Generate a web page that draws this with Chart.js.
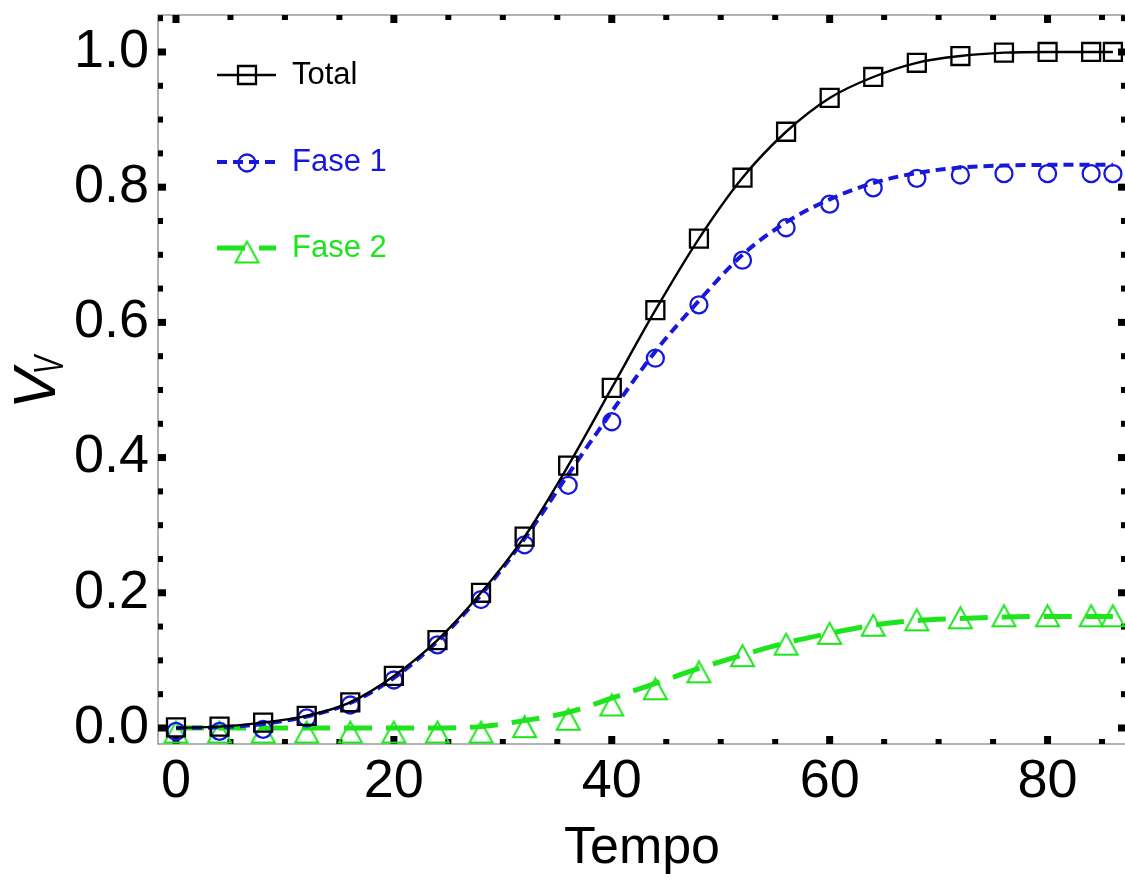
<!DOCTYPE html>
<html>
<head>
<meta charset="utf-8">
<title>Vv x Tempo</title>
<script src="https://cdn.jsdelivr.net/npm/chart.js@4.4.1/dist/chart.umd.min.js"></script>
<style>
  html, body { margin: 0; padding: 0; background: #fff; overflow: hidden; }
</style>
</head>
<body>
<canvas id="vvChart" width="1135" height="880"></canvas>
<script>
// data
const tempo = [0, 4, 8, 12, 16, 20, 24, 28, 32, 36, 40, 44, 48, 52, 56, 60, 64, 68, 72, 76, 80, 84, 86];

// measured points
const totalPts = [0.001, 0.002, 0.008, 0.018, 0.038, 0.077, 0.13, 0.20, 0.283, 0.388, 0.503, 0.618, 0.724, 0.814, 0.882, 0.932, 0.963, 0.984, 0.994, 0.999, 1.0, 1.0, 1.0];
const fase1Pts = [-0.005, -0.005, -0.002, 0.015, 0.034, 0.071, 0.123, 0.19, 0.271, 0.359, 0.453, 0.547, 0.626, 0.692, 0.74, 0.775, 0.799, 0.813, 0.818, 0.82, 0.82, 0.82, 0.82];
const fase2Pts = [-0.006, -0.006, -0.006, -0.006, -0.006, -0.006, -0.006, -0.006, 0.002, 0.013, 0.034, 0.058, 0.083, 0.107, 0.124, 0.14, 0.152, 0.16, 0.163, 0.166, 0.166, 0.166, 0.166];

// fitted curves
const totalFit = [0.0, 0.002, 0.008, 0.018, 0.038, 0.077, 0.13, 0.20, 0.283, 0.388, 0.503, 0.618, 0.724, 0.814, 0.882, 0.932, 0.963, 0.984, 0.994, 0.999, 1.0, 1.0, 1.0];
const fase1Fit = [0.0, 0.001, 0.006, 0.017, 0.037, 0.074, 0.128, 0.197, 0.28, 0.375, 0.468, 0.557, 0.632, 0.70, 0.748, 0.782, 0.806, 0.821, 0.829, 0.832, 0.833, 0.833, 0.833];
const fase2Fit = [0, 0, 0, 0, 0, 0, 0, 0.002, 0.011, 0.023, 0.044, 0.066, 0.088, 0.108, 0.126, 0.14, 0.152, 0.159, 0.162, 0.164, 0.165, 0.165, 0.165];

const xTickLabels = [0, 20, 40, 60, 80];
const yTickLabels = [0.0, 0.2, 0.4, 0.6, 0.8, 1.0];
const xMinorTicks = [0, 5, 10, 15, 20, 25, 30, 35, 40, 45, 50, 55, 60, 65, 70, 75, 80, 85];
const yMinorTicks = [0, 0.05, 0.1, 0.15, 0.2, 0.25, 0.3, 0.35, 0.4, 0.45, 0.5, 0.55, 0.6, 0.65, 0.7, 0.75, 0.8, 0.85, 0.9, 0.95, 1.0, 1.05];

const BLACK = "#000000";
const BLUE = "#1818dc";
const GREEN = "#1ee41e";

Chart.defaults.font.family = "'Liberation Sans', Arial, sans-serif";
Chart.defaults.color = "#000";

// hollow triangle centred on its bounding box (like the original plot)
function makeTriangle(w, h, color, lw) {
    const c = document.createElement("canvas");
    c.width = w + 2 * lw;
    c.height = h + 2 * lw;
    const g = c.getContext("2d");
    g.strokeStyle = color;
    g.lineWidth = lw;
    g.beginPath();
    g.moveTo(c.width / 2, lw);
    g.lineTo(lw, lw + h);
    g.lineTo(lw + w, lw + h);
    g.closePath();
    g.stroke();
    return c;
}
const triangleImg = makeTriangle(23, 21, GREEN, 2);

const pts = arr => tempo.map((x, i) => ({ x, y: arr[i] }));

function curve(label, arr, color, width, dash) {
    return {
        label, data: pts(arr), showLine: true,
        borderColor: color, borderWidth: width, borderDash: dash,
        pointRadius: 0, cubicInterpolationMode: "monotone", fill: false
    };
}
function marks(label, arr, color, style, radius) {
    return {
        label, data: pts(arr), showLine: false, clip: false,
        pointStyle: style, pointRadius: radius, pointHoverRadius: radius,
        pointBorderColor: color, pointBackgroundColor: "rgba(0,0,0,0)",
        pointBorderWidth: 2.3, borderColor: color
    };
}

const datasets = [
    curve("Total", totalFit, BLACK, 2.4, []),
    marks("Total", totalPts, BLACK, "rect", 12.7),
    curve("Fase 1", fase1Fit, BLUE, 4, [10, 6]),
    marks("Fase 1", fase1Pts, BLUE, "circle", 8.5),
    curve("Fase 2", fase2Fit, GREEN, 5, [28, 14]),
    marks("Fase 2", fase2Pts, GREEN, triangleImg, 11)
];

// frame with inward ticks on all four sides
const frameTicks = {
    id: "frameTicks",
    beforeDatasetsDraw(chart) {
        const { ctx, chartArea: a, scales: { x, y } } = chart;
        ctx.save();
        ctx.strokeStyle = "#8a8a8a";
        ctx.lineWidth = 1.3;
        ctx.strokeRect(a.left, a.top, a.right - a.left, a.bottom - a.top);
        ctx.fillStyle = "#000";
        xMinorTicks.forEach(v => {
            const px = x.getPixelForValue(v);
            const major = xTickLabels.includes(v);
            const len = major ? 8 : 5, w = major ? 7 : 6;
            ctx.fillRect(px - w / 2, a.bottom - len, w, len);
            ctx.fillRect(px - w / 2, a.top, w, len);
        });
        yMinorTicks.forEach(v => {
            const py = y.getPixelForValue(v);
            const major = yTickLabels.some(t => Math.abs(t - v) < 1e-6);
            const len = major ? 8 : 5, h = major ? 7 : 6;
            ctx.fillRect(a.left, py - h / 2, len, h);
            ctx.fillRect(a.right - len, py - h / 2, len, h);
        });
        ctx.restore();
    }
};

// y title V with subscript V
const yTitle = {
    id: "yTitle",
    afterDraw(chart) {
        const ctx = chart.ctx;
        ctx.save();
        ctx.translate(55, 409);
        ctx.rotate(-Math.PI / 2);
        ctx.fillStyle = "#000";
        ctx.textBaseline = "alphabetic";
        ctx.textAlign = "left";
        ctx.font = "italic 60px 'Liberation Sans', Arial, sans-serif";
        ctx.fillText("V", 0, 0);
        ctx.font = "italic 42px 'Liberation Sans', Arial, sans-serif";
        ctx.save();
        ctx.translate(35, 8);
        ctx.scale(0.65, 1);
        ctx.fillText("V", 0, 0);
        ctx.restore();
        ctx.restore();
    }
};

// legend inside the plot, top left
const insideLegend = {
    id: "insideLegend",
    afterDraw(chart) {
        const ctx = chart.ctx;
        const rows = [
            { line: 0, mark: 1, y: 75, my: 75 },
            { line: 2, mark: 3, y: 162, my: 163 },
            { line: 4, mark: 5, y: 248, my: 252 }
        ];
        ctx.save();
        rows.forEach(r => {
            const ld = chart.data.datasets[r.line];
            const md = chart.data.datasets[r.mark];
            ctx.strokeStyle = ld.borderColor;
            ctx.lineWidth = ld.borderWidth;
            ctx.setLineDash(ld.borderDash);
            ctx.beginPath();
            ctx.moveTo(217, r.y);
            ctx.lineTo(276, r.y);
            ctx.stroke();
            ctx.setLineDash([]);
            ctx.strokeStyle = md.pointBorderColor;
            ctx.fillStyle = md.pointBackgroundColor;
            ctx.lineWidth = md.pointBorderWidth;
            Chart.helpers.drawPoint(ctx, { pointStyle: md.pointStyle, radius: md.pointRadius, borderWidth: md.pointBorderWidth, rotation: 0 }, 247, r.my);
            ctx.fillStyle = ld.borderColor;
            ctx.font = "31px 'Liberation Sans', Arial, sans-serif";
            ctx.textBaseline = "middle";
            ctx.textAlign = "left";
            ctx.fillText(ld.label, 292, r.y);
        });
        ctx.restore();
    }
};

new Chart(document.getElementById("vvChart"), {
    type: "scatter",
    data: { datasets },
    options: {
        responsive: false,
        animation: false,
        devicePixelRatio: 1,
        layout: { autoPadding: false, padding: { top: 15, right: 9, left: 0, bottom: 0 } },
        plugins: { legend: { display: false }, tooltip: { enabled: false } },
        scales: {
            x: {
                type: "linear",
                min: -1.65,
                max: 87.2,
                grid: { display: false, drawTicks: false },
                border: { display: false },
                afterFit: s => { s.height = 136; s.paddingLeft = 0; s.paddingRight = 0; },
                afterBuildTicks: s => { s.ticks = xTickLabels.map(v => ({ value: v })); },
                ticks: { font: { size: 54 }, padding: 6, maxRotation: 0, callback: v => String(v) },
                title: { display: true, text: "Tempo", font: { size: 52 }, padding: { top: 0, bottom: 0 } }
            },
            y: {
                type: "linear",
                min: -0.0237,
                max: 1.0547,
                grid: { display: false, drawTicks: false },
                border: { display: false },
                afterFit: s => { s.width = 158; s.paddingTop = 0; s.paddingBottom = 0; },
                afterBuildTicks: s => { s.ticks = yTickLabels.map(v => ({ value: v })); },
                ticks: { font: { size: 54 }, padding: 9, callback: v => v.toFixed(1) }
            }
        }
    },
    plugins: [frameTicks, yTitle, insideLegend]
});
</script>
</body>
</html>
